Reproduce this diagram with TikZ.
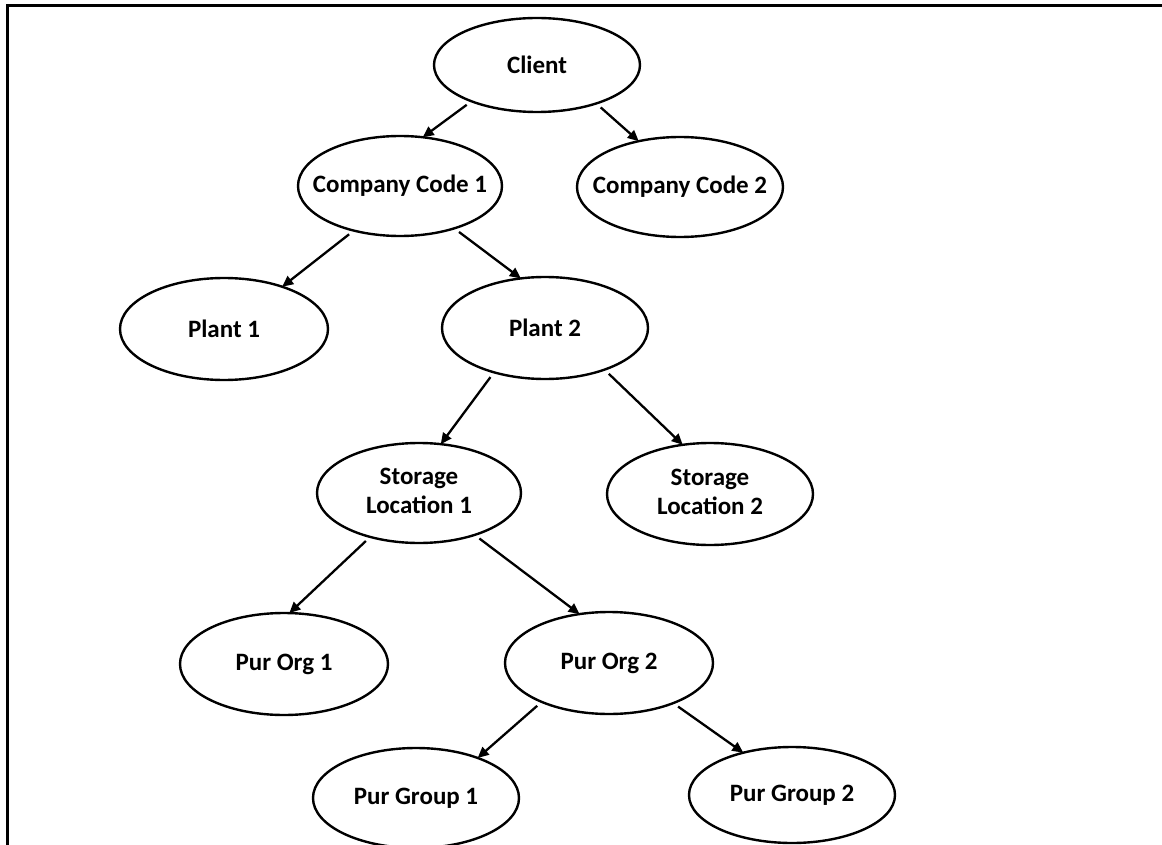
\documentclass[tikz,border=0pt]{standalone}
\usepackage{fontspec}
\setmainfont{Carlito}
\usetikzlibrary{shapes.geometric,arrows.meta}
\newcommand\nt[1]{\makebox[0pt]{#1}}
\newcommand\nttwo[2]{\makebox[0pt]{\begin{tabular}{@{}c@{}}#1\\#2\end{tabular}}}
\tikzset{
  ell/.style={draw, line width=2.4pt, ellipse, inner sep=0pt, outer sep=0pt,
    font=\fontsize{25}{29}\selectfont\bfseries},
  arr/.style={line width=2.3pt, -{Triangle[length=11pt,width=10pt]}, shorten <=6pt},
  frame/.style={line width=3pt}
}
\begin{document}
\begin{tikzpicture}[x=1pt,y=-1pt]
\useasboundingbox (0,0) rectangle (1162,845);
\draw[frame] (7.5,845) -- (7.5,5.5) -- (1162,5.5);

\node[ell, minimum width=206pt, minimum height=94pt]  (client) at (537,65)  {\nt{Client}};
\node[ell, minimum width=204pt, minimum height=100pt] (cc1)    at (400,186) {\nt{Company Code 1}};
\node[ell, minimum width=206pt, minimum height=100pt] (cc2)    at (680,187) {\nt{Company Code 2}};
\node[ell, minimum width=208pt, minimum height=102pt] (p1)     at (224,329) {\nt{Plant 1}};
\node[ell, minimum width=206pt, minimum height=102pt] (p2)     at (545,328) {\nt{Plant 2}};
\node[ell, minimum width=204pt, minimum height=100pt] (sl1)    at (419,493) {\nttwo{Storage}{Location 1}};
\node[ell, minimum width=206pt, minimum height=102pt] (sl2)    at (710,494) {\nttwo{Storage}{Location 2}};
\node[ell, minimum width=208pt, minimum height=102pt] (po1)    at (284,664) {\nt{Pur Org 1}};
\node[ell, minimum width=208pt, minimum height=102pt] (po2)    at (609,663) {\nt{Pur Org 2}};
\node[ell, minimum width=206pt, minimum height=100pt] (pg1)    at (416,798) {\nt{Pur Group 1}};
\node[ell, minimum width=206pt, minimum height=96pt]  (pg2)    at (792,795) {\nt{Pur Group 2}};

\draw[arr] (client.209) -- (cc1.65);
\draw[arr] (client.327) -- (cc2.132);
\draw[arr] (cc1.224) -- (p1.36);
\draw[arr] (cc1.322) -- (p2.116);
\draw[arr] (p2.221) -- (sl1.66);
\draw[arr] (p2.325) -- (sl2.119);
\draw[arr] (sl1.222) -- (po1.84);
\draw[arr] (sl1.323) -- (po2.121);
\draw[arr] (po2.210) -- (pg1.33);
\draw[arr] (po2.328) -- (pg2.139);
\end{tikzpicture}
\end{document}
